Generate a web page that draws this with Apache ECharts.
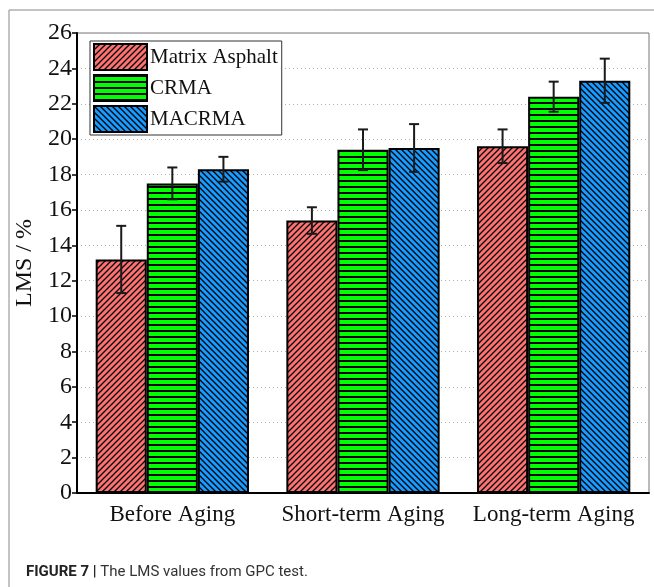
<!DOCTYPE html>
<html>
<head>
<meta charset="utf-8">
<script src="https://cdn.jsdelivr.net/npm/echarts@6/dist/echarts.min.js"></script>
<style>
  html, body { margin: 0; padding: 0; background: #fff; }
  #chart { width: 654px; height: 587px; }
</style>
</head>
<body>
<div id="chart"></div>
<script>
var categories = ['Before Aging', 'Short-term Aging', 'Long-term Aging'];
var seriesNames = ['Matrix Asphalt', 'CRMA', 'MACRMA'];
var matrixVals = [13.2, 15.4, 19.6];
var crmaVals = [17.5, 19.4, 22.4];
var macrmaVals = [18.3, 19.5, 23.3];
var matrixErr = [1.9, 0.75, 0.95];
var crmaErr = [0.9, 1.15, 0.85];
var macrmaErr = [0.7, 1.35, 1.25];
var yTicks = [0, 2, 4, 6, 8, 10, 12, 14, 16, 18, 20, 22, 24, 26];

// hatch fill patterns drawn on small canvases
function makePattern(bg, kind) {
  var s = 6;
  var c = document.createElement('canvas');
  c.width = s; c.height = s;
  var ctx = c.getContext('2d');
  ctx.fillStyle = bg;
  ctx.fillRect(0, 0, s, s);
  ctx.strokeStyle = '#000';
  if (kind == 'h') {
    ctx.fillStyle = '#000';
    ctx.fillRect(0, 0, s, 2);
  } else if (kind == 'f') {
    ctx.lineWidth = 1.3;
    ctx.beginPath();
    ctx.moveTo(-1, s + 1); ctx.lineTo(s + 1, -1);
    ctx.moveTo(-2, 2); ctx.lineTo(2, -2);
    ctx.moveTo(s - 2, s + 2); ctx.lineTo(s + 2, s - 2);
    ctx.stroke();
  } else {
    ctx.lineWidth = 1.3;
    ctx.beginPath();
    ctx.moveTo(-1, -1); ctx.lineTo(s + 1, s + 1);
    ctx.moveTo(s - 2, -2); ctx.lineTo(s + 2, 2);
    ctx.moveTo(-2, s - 2); ctx.lineTo(2, s + 2);
    ctx.stroke();
  }
  return { image: c, repeat: 'repeat' };
}

var fills = [
  makePattern('#ff7272', 'f'),
  makePattern('#00ff00', 'h'),
  makePattern('#1a9bff', 'b')
];
var allVals = [matrixVals, crmaVals, macrmaVals];
var allErr = [matrixErr, crmaErr, macrmaErr];
var gapPct = 0.196;

var series = [];
for (var i = 0; i < 3; i++) {
  series.push({
    name: seriesNames[i],
    type: 'bar',
    data: allVals[i],
    barGap: 0,
    barCategoryGap: (gapPct * 100) + '%',
    itemStyle: { color: fills[i], borderColor: '#000', borderWidth: 2 },
    emphasis: { disabled: true }
  });
}

function errSeries(k) {
  var d = [];
  for (var j = 0; j < categories.length; j++) {
    d.push([j, allVals[k][j], allErr[k][j]]);
  }
  return {
    type: 'custom',
    data: d,
    z: 5,
    silent: true,
    encode: { x: 0, y: 1 },
    renderItem: function (params, api) {
      var x = api.value(0), v = api.value(1), e = api.value(2);
      var bw = api.size([1, 0])[0];
      var barW = bw * (1 - gapPct) / 3;
      var cx = api.coord([x, v])[0] + (k - 1) * barW;
      var top = api.coord([x, v + e])[1];
      var bot = api.coord([x, v - e])[1];
      var st = { stroke: '#1a1a1a', lineWidth: 2 };
      return {
        type: 'group',
        children: [
          { type: 'line', shape: { x1: cx, y1: top, x2: cx, y2: bot }, style: st },
          { type: 'line', shape: { x1: cx - 5, y1: top, x2: cx + 5, y2: top }, style: st },
          { type: 'line', shape: { x1: cx - 5, y1: bot, x2: cx + 5, y2: bot }, style: st }
        ]
      };
    }
  };
}
series.push(errSeries(0), errSeries(1), errSeries(2));

var chart = echarts.init(document.getElementById('chart'));
var option = {
  animation: false,
  backgroundColor: '#fff',
  grid: {
    left: 77, top: 33, width: 572, height: 460,
    show: true, borderColor: '#777', borderWidth: 1
  },
  legend: {
    orient: 'vertical',
    left: 90, top: 41,
    itemWidth: 53, itemHeight: 26, itemGap: 3,
    itemStyle: { borderColor: '#000', borderWidth: 2 },
    padding: [2, 4, 2, 3],
    backgroundColor: '#fff',
    borderColor: '#333', borderWidth: 1,
    icon: 'rect',
    data: seriesNames,
    textStyle: { fontFamily: 'Liberation Serif', fontSize: 21, color: '#111', padding: [0, 0, 0, -2] }
  },
  xAxis: {
    type: 'category',
    data: categories,
    axisLine: { lineStyle: { color: '#000', width: 2 } },
    axisTick: { show: false },
    axisLabel: { interval: 0, fontFamily: 'Liberation Serif', fontSize: 23, color: '#111', margin: 10 }
  },
  yAxis: {
    type: 'value',
    min: yTicks[0], max: yTicks[yTicks.length - 1], interval: 2,
    name: 'LMS / %',
    nameLocation: 'middle',
    nameGap: 37,
    nameTextStyle: { fontFamily: 'Liberation Serif', fontSize: 24, color: '#111' },
    axisLine: { show: true, lineStyle: { color: '#000', width: 2 } },
    axisTick: { show: true, length: 5, lineStyle: { color: '#000', width: 1.5 } },
    axisLabel: { fontFamily: 'Liberation Serif', fontSize: 24, color: '#111', margin: 5 },
    splitLine: { lineStyle: { color: '#b0b0b0', type: [1, 3], width: 1 } }
  },
  graphic: [
    { type: 'line', shape: { x1: 9, y1: 10, x2: 654, y2: 10 }, style: { stroke: '#888', lineWidth: 1 } },
    { type: 'line', shape: { x1: 9, y1: 10, x2: 9, y2: 587 }, style: { stroke: '#888', lineWidth: 1 } },
    {
      type: 'text', left: 26, top: 565,
      style: {
        text: '{b|FIGURE 7 |} The LMS values from GPC test.',
        rich: {
          b: { fontFamily: 'Roboto', fontWeight: 'bold', fontSize: 15, fill: '#222' }
        },
        fontFamily: 'Roboto', fontSize: 15, fill: '#333'
      }
    }
  ],
  series: series
};
chart.setOption(option);
</script>
</body>
</html>
